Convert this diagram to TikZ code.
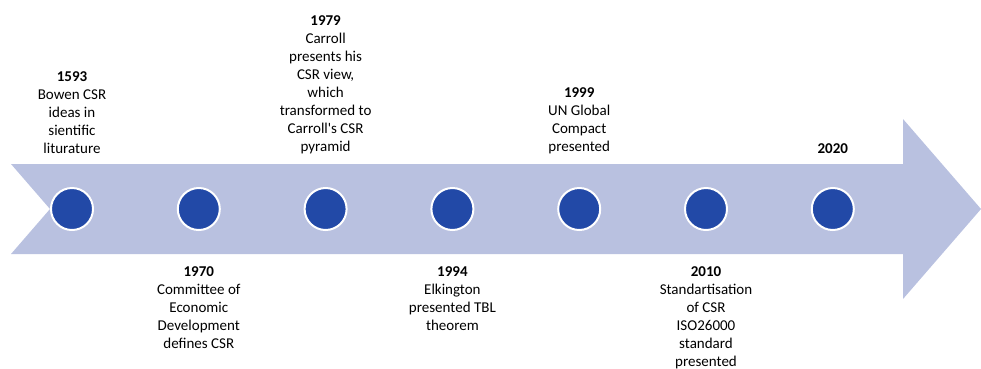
\documentclass[tikz,border=0pt]{standalone}
\usepackage{fontspec}
\setmainfont{Carlito}
\usetikzlibrary{positioning}
\definecolor{bandblue}{HTML}{B9C1E0}
\definecolor{dotblue}{HTML}{2249A7}
\tikzset{>=latex}

\begin{document}
\begin{tikzpicture}[x=1pt,y=-1pt,
  dot/.style={circle,fill=dotblue,draw=white,line width=2pt,minimum size=42pt,inner sep=0pt},
  evtext/.style={align=center,inner sep=0pt,font=\fontsize{15}{18}\selectfont}]
  \useasboundingbox (0,0) rectangle (981,368);
  % the time arrow
  \fill[bandblue] (11,164) -- (903,164) -- (903,119) -- (981,209) -- (903,299)
    -- (903,254) -- (11,254) -- (50,209) -- cycle;
  \foreach \i in {1,...,7} { \node[dot] (c\i) at ({72+126.8*(\i-1)},209) {}; }
  % events above
  \node[evtext,above=33pt of c1] (t1) {\textbf{1593}\\Bowen CSR\\ideas in\\sientific\\liturature};
  \node[evtext,above=33pt of c3] (t3) {\textbf{1979}\\Carroll\\presents his\\CSR view,\\which\\transformed to\\Carroll\textquotesingle s CSR\\pyramid};
  \node[evtext,above=33pt of c5] (t5) {\textbf{1999}\\UN Global\\Compact\\presented};
  \node[evtext,above=33pt of c7] (t7) {\textbf{2020}};
  % events below
  \node[evtext,below=35pt of c2] (t2) {\textbf{1970}\\Committee of\\Economic\\Development\\defines CSR};
  \node[evtext,below=35pt of c4] (t4) {\textbf{1994}\\Elkington\\presented TBL\\theorem};
  \node[evtext,below=35pt of c6] (t6) {\textbf{2010}\\Standartisation\\of CSR\\ISO26000\\standard\\presented};
\end{tikzpicture}
\end{document}
